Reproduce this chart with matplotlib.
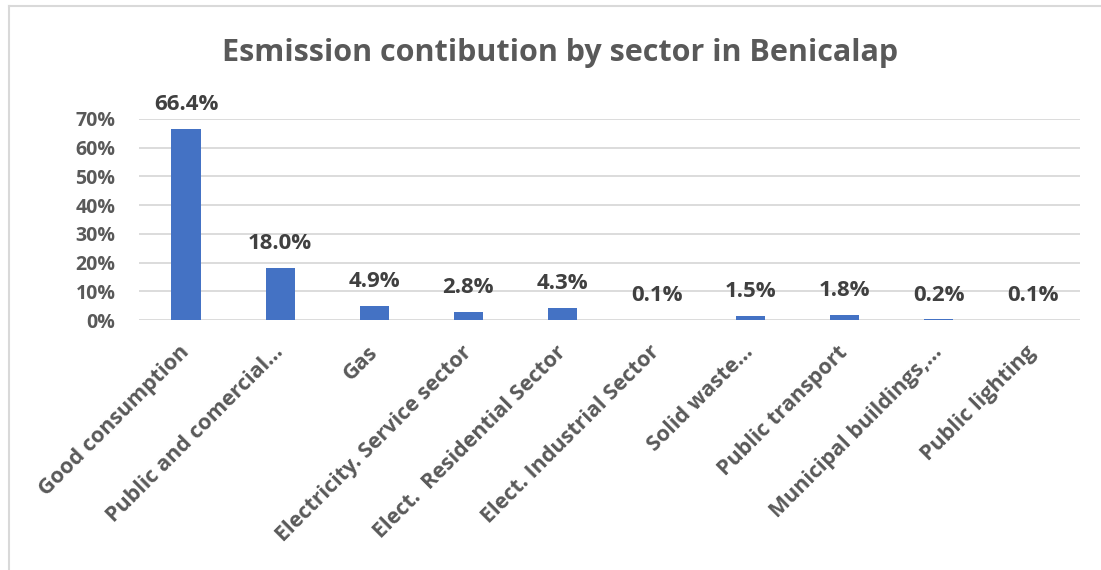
import numpy as np
import matplotlib.pyplot as plt
from matplotlib.lines import Line2D
from matplotlib.ticker import PercentFormatter

# sectors and their share of emissions (%)
sectors = ["Good consumption", "Public and comercial\u2026", "Gas",
           "Electricity. Service sector", "Elect.  Residential Sector",
           "Elect. Industrial Sector", "Solid waste\u2026", "Public transport",
           "Municipal buildings,\u2026", "Public lighting"]
share = [66.4, 18.0, 4.9, 2.8, 4.3, 0.1, 1.5, 1.8, 0.2, 0.1]
y_ticks = [0, 10, 20, 30, 40, 50, 60, 70]

bar_color = "#4472C4"
text_color = "#595959"
grid_color = "#D9D9D9"
font = "Open Sans"

fig = plt.figure(figsize=(11.01, 5.70), dpi=100)
ax = fig.add_axes([139 / 1101, 1 - 320 / 570, 941 / 1101, 201 / 570])

x = np.arange(len(sectors))
bars = ax.bar(x, share, width=0.31, color=bar_color, zorder=3)

ax.set_xlim(-0.5, len(sectors) - 0.5)
ax.set_ylim(0, 70)
ax.set_yticks(y_ticks)
ax.yaxis.set_major_formatter(PercentFormatter(decimals=0))
ax.grid(axis="y", color=grid_color, linewidth=1.3, zorder=0)
for s in ax.spines.values():
    s.set_visible(False)
ax.tick_params(length=0)
ax.tick_params(axis="y", pad=17)

for lab in ax.get_yticklabels():
    lab.set_fontfamily(font)
    lab.set_fontweight("bold")
    lab.set_fontsize(14)
    lab.set_color(text_color)

ax.set_xticks(x)
ax.set_xticklabels(sectors, rotation=45, ha="right", va="center",
                   rotation_mode="anchor", fontfamily=font,
                   fontweight="bold", fontsize=15.5, color=text_color)
ax.tick_params(axis="x", pad=21)

# value labels on top of each bar
for b, v in zip(bars, share):
    ax.annotate(f"{v:.1f}%", (b.get_x() + b.get_width() / 2, v),
                xytext=(0, 10), textcoords="offset points",
                ha="center", va="bottom", fontfamily=font,
                fontweight="bold", fontsize=16, color="#404040")

fig.text(560 / 1101, 1 - 53 / 570, "Esmission contibution by sector in Benicalap",
         ha="center", va="center", fontfamily=font, fontweight="bold",
         fontsize=22, color=text_color)

# chart frame (left and top edges)
fig.add_artist(Line2D([9 / 1101, 9 / 1101], [0, 1 - 6 / 570],
                      transform=fig.transFigure, color=grid_color, linewidth=1.5))
fig.add_artist(Line2D([9 / 1101, 1], [1 - 6 / 570, 1 - 6 / 570],
                      transform=fig.transFigure, color=grid_color, linewidth=1.5))

fig.savefig("out.png", dpi=100, facecolor="white")
